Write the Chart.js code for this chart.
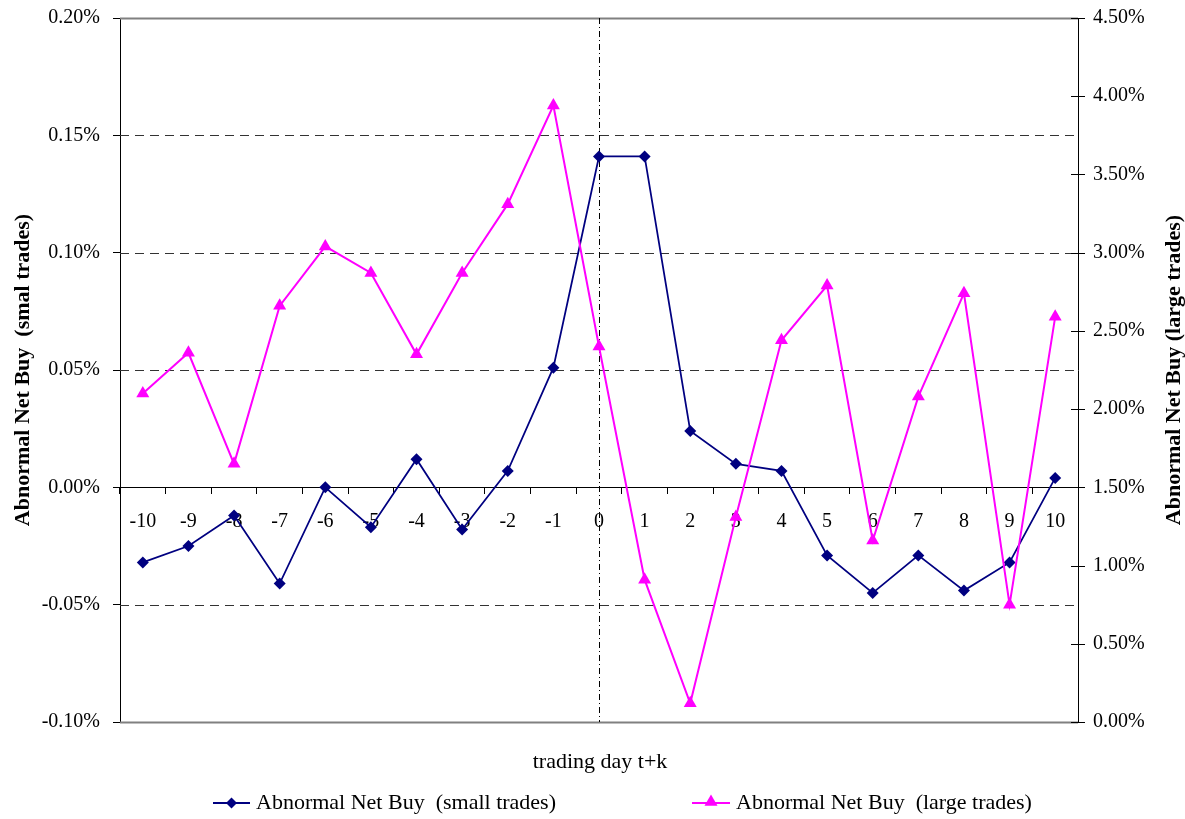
<!DOCTYPE html>
<html>
<head>
<meta charset="utf-8">
<script src="https://cdn.jsdelivr.net/npm/chart.js@4/dist/chart.umd.min.js"></script>
<style>
  html, body { margin: 0; padding: 0; background: #fff; }
  #wrap { width: 1185px; height: 819px; position: relative; }
</style>
</head>
<body>
<div id="wrap"><canvas id="c" width="1185" height="819"></canvas></div>
<script>
// ---- data ----
const days = ['-10','-9','-8','-7','-6','-5','-4','-3','-2','-1','0','1','2','3','4','5','6','7','8','9','10'];
const smallTrades = [-0.032,-0.025,-0.012,-0.041,0.000,-0.017,0.012,-0.018,0.007,0.051,0.141,0.141,0.024,0.010,0.007,-0.029,-0.045,-0.029,-0.044,-0.032,0.004];
const largeTrades = [2.10,2.36,1.65,2.66,3.04,2.87,2.35,2.87,3.31,3.94,2.40,0.91,0.12,1.31,2.44,2.79,1.16,2.08,2.74,0.75,2.59];
const leftTicks = { min: -0.10, max: 0.20, step: 0.05 };
const rightTicks = { min: 0, max: 4.5, step: 0.5 };
const smallLabel = 'Abnormal Net Buy  (small trades)';
const largeLabel = 'Abnormal Net Buy  (large trades)';
const leftTitle = 'Abnormal Net Buy  (smal trades)';
const rightTitle = 'Abnormal Net Buy (large trades)';
const xTitle = 'trading day t+k';
const eventDay = '0';

const FONT = "'Liberation Serif', 'Times New Roman', serif";
const NAVY = '#000080';
const MAGENTA = '#FF00FF';

function drawDiamond(ctx, x, y, r, color) {
  ctx.beginPath();
  ctx.moveTo(x, y - r); ctx.lineTo(x + r, y); ctx.lineTo(x, y + r); ctx.lineTo(x - r, y);
  ctx.closePath(); ctx.fillStyle = color; ctx.fill();
}
function drawTriangle(ctx, x, y, r, color) {
  ctx.beginPath();
  ctx.moveTo(x, y - r);
  ctx.lineTo(x + r * 0.866, y + r * 0.5);
  ctx.lineTo(x - r * 0.866, y + r * 0.5);
  ctx.closePath(); ctx.fillStyle = color; ctx.fill();
}

const decor = {
  id: 'decor',
  beforeDatasetsDraw(chart) {
    const { ctx, chartArea: a, scales } = chart;
    const yL = scales.y, yR = scales.y1, x = scales.x;
    ctx.save();
    // dashed horizontal grid lines from left axis ticks
    yL.ticks.forEach(t => {
      const v = t.value;
      const py = Math.round(yL.getPixelForValue(v)) + 0.5;
      if (Math.abs(v - leftTicks.min) < 1e-9 || Math.abs(v - leftTicks.max) < 1e-9) {
        ctx.setLineDash([]);
        ctx.strokeStyle = '#808080';
        ctx.lineWidth = 2;
      } else if (Math.abs(v) < 1e-9) {
        return;
      } else {
        ctx.setLineDash([9, 6]);
        ctx.strokeStyle = '#333333';
        ctx.lineWidth = 1;
      }
      ctx.beginPath(); ctx.moveTo(a.left, py); ctx.lineTo(a.right, py); ctx.stroke();
    });
    // vertical dash-dot line at event day
    const px = Math.round(x.getPixelForValue(days.indexOf(eventDay))) + 0.5;
    ctx.setLineDash([6, 3, 1, 3]);
    ctx.strokeStyle = '#000';
    ctx.lineWidth = 1;
    ctx.beginPath(); ctx.moveTo(px, a.top); ctx.lineTo(px, a.bottom); ctx.stroke();
    // right axis crossing tick marks
    ctx.setLineDash([]);
    yR.ticks.forEach(t => {
      const py = Math.round(yR.getPixelForValue(t.value)) + 0.5;
      ctx.beginPath(); ctx.moveTo(a.right - 7, py); ctx.lineTo(a.right + 7, py); ctx.stroke();
    });
    ctx.restore();
  },
  afterDraw(chart) {
    const { ctx, chartArea: a } = chart;
    ctx.save();
    ctx.fillStyle = '#000';
    // axis titles
    ctx.font = 'bold 22px ' + FONT;
    ctx.textAlign = 'center';
    ctx.textBaseline = 'middle';
    const cy = (a.top + a.bottom) / 2;
    ctx.save(); ctx.translate(23, cy); ctx.rotate(-Math.PI / 2); ctx.fillText(leftTitle, 0, 0); ctx.restore();
    ctx.save(); ctx.translate(1174, cy); ctx.rotate(-Math.PI / 2); ctx.fillText(rightTitle, 0, 0); ctx.restore();
    // x title
    ctx.font = '22px ' + FONT;
    ctx.fillText(xTitle, (a.left + a.right) / 2 + 1, 762);
    // legend
    const ly = 803;
    ctx.textAlign = 'left';
    ctx.lineWidth = 2;
    ctx.strokeStyle = NAVY;
    ctx.beginPath(); ctx.moveTo(213, ly); ctx.lineTo(250, ly); ctx.stroke();
    drawDiamond(ctx, 231.5, ly, 5.5, NAVY);
    ctx.fillStyle = '#000';
    ctx.fillText(chart.data.datasets[0].label, 256, ly);
    ctx.strokeStyle = MAGENTA;
    ctx.beginPath(); ctx.moveTo(692, ly); ctx.lineTo(730, ly); ctx.stroke();
    drawTriangle(ctx, 711, ly - 1, 7.5, MAGENTA);
    ctx.fillStyle = '#000';
    ctx.fillText(chart.data.datasets[1].label, 736, ly);
    ctx.restore();
  }
};

function fixVertical(width) {
  return function (s) {
    s.width = width;
    s.paddingTop = 0;
    s.paddingBottom = 0;
  };
}

new Chart(document.getElementById('c'), {
  type: 'line',
  data: {
    labels: days,
    datasets: [
      {
        label: smallLabel,
        data: smallTrades,
        yAxisID: 'y',
        borderColor: NAVY,
        backgroundColor: NAVY,
        borderWidth: 1.75,
        pointStyle: 'rectRot',
        pointRadius: 6,
        pointBorderWidth: 0,
        tension: 0,
        order: 2
      },
      {
        label: largeLabel,
        data: largeTrades,
        yAxisID: 'y1',
        borderColor: MAGENTA,
        backgroundColor: MAGENTA,
        borderWidth: 2,
        pointStyle: 'triangle',
        pointRadius: 7.5,
        pointBorderWidth: 0,
        tension: 0,
        order: 1
      }
    ]
  },
  options: {
    responsive: false,
    animation: false,
    devicePixelRatio: 1,
    layout: { padding: { left: 0, right: 0, top: 18, bottom: 97 } },
    plugins: { legend: { display: false }, tooltip: { enabled: false } },
    scales: {
      x: {
        type: 'category',
        offset: true,
        position: { y: 0 },
        grid: { display: true, drawOnChartArea: false, drawTicks: true, tickLength: 6, offset: true, color: '#000', tickColor: '#000', tickWidth: 1 },
        border: { display: true, color: '#000', width: 1 },
        ticks: { color: '#000', font: { family: FONT, size: 20 }, padding: 16, maxRotation: 0, autoSkip: false }
      },
      y: {
        position: 'left',
        min: leftTicks.min,
        max: leftTicks.max,
        afterFit: fixVertical(120),
        grid: { display: true, drawOnChartArea: false, drawTicks: true, tickLength: 7, tickColor: '#000' },
        border: { display: true, color: '#000', width: 1 },
        ticks: {
          stepSize: leftTicks.step,
          color: '#000',
          padding: 13,
          font: { family: FONT, size: 20 },
          callback: v => v.toFixed(2) + '%'
        }
      },
      y1: {
        position: 'right',
        min: rightTicks.min,
        max: rightTicks.max,
        afterFit: fixVertical(107),
        grid: { display: false, drawOnChartArea: false, drawTicks: false },
        border: { display: true, color: '#000', width: 1 },
        ticks: {
          stepSize: rightTicks.step,
          color: '#000',
          padding: 15,
          font: { family: FONT, size: 20 },
          callback: v => v.toFixed(2) + '%'
        }
      }
    }
  },
  plugins: [decor]
});
</script>
</body>
</html>
